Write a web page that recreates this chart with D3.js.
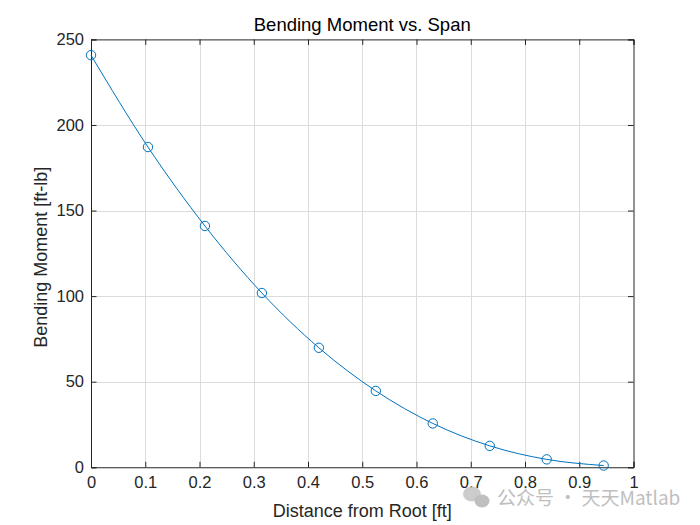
<!DOCTYPE html>
<html>
<head>
<meta charset="utf-8">
<script src="https://cdn.jsdelivr.net/npm/d3@7"></script>
<style>
  html, body { margin: 0; padding: 0; background: #fff; }
  svg { display: block; font-family: "Liberation Sans", Arial, Helvetica, sans-serif; }
</style>
</head>
<body>
<svg id="chart" width="700" height="525"></svg>
<script>
// ---- data ----
const distance = [0, 0.105, 0.21, 0.315, 0.42, 0.525, 0.63, 0.735, 0.84, 0.945];
const moment = [240.8, 187.1, 141.0, 101.8, 69.8, 44.6, 25.6, 12.5, 4.6, 1.0];
const xTicks = [0, 0.1, 0.2, 0.3, 0.4, 0.5, 0.6, 0.7, 0.8, 0.9, 1];
const yTicks = [0, 50, 100, 150, 200, 250];
const titleText = "Bending Moment vs. Span";
const xLabelText = "Distance from Root [ft]";
const yLabelText = "Bending Moment [ft-lb]";
const watermarkText = "公众号 · 天天Matlab";

(function () {
// ---- layout ----
const W = 700, H = 525;
const mLeft = 91, mRight = 633.5, mTop = 39.4, mBottom = 467.25;
const ink = "#262626";
const lineColor = "#0072BD";

const svg = d3.select("#chart");
svg.append("rect").attr("width", W).attr("height", H).attr("fill", "#fff");

const x = d3.scaleLinear().domain([0, 1]).range([mLeft, mRight]);
const y = d3.scaleLinear().domain([0, 250]).range([mBottom, mTop]);

// grid
const grid = svg.append("g").attr("stroke", "#dcdcdc").attr("stroke-width", 1);
grid.selectAll(".gx").data(xTicks.slice(1, -1)).join("line")
  .attr("x1", d => Math.round(x(d)) + 0.5).attr("x2", d => Math.round(x(d)) + 0.5)
  .attr("y1", mTop).attr("y2", mBottom);
grid.selectAll(".gy").data(yTicks.slice(1, -1)).join("line")
  .attr("y1", d => Math.round(y(d)) + 0.5).attr("y2", d => Math.round(y(d)) + 0.5)
  .attr("x1", mLeft).attr("x2", mRight);

// axes
const tickLen = 5.5;
const xAxis = d3.axisBottom(x).tickValues(xTicks).tickSize(-tickLen).tickPadding(9)
  .tickFormat(d => String(+d.toFixed(1)));
const yAxis = d3.axisLeft(y).tickValues(yTicks).tickSize(-tickLen).tickPadding(7);
const xAxisTop = d3.axisTop(x).tickValues(xTicks).tickSize(-tickLen).tickFormat("");
const yAxisRight = d3.axisRight(y).tickValues(yTicks).tickSize(-tickLen).tickFormat("");

function styleAxis(g) {
  g.selectAll("path").attr("stroke", ink).attr("stroke-width", 1);
  g.selectAll("line").attr("stroke", ink).attr("stroke-width", 1);
  g.selectAll("text").attr("fill", ink).style("font-size", "16.5px")
    .style("font-family", '"Liberation Sans", Arial, Helvetica, sans-serif');
}

svg.append("g").attr("transform", `translate(0,${mBottom})`).call(xAxis).call(styleAxis);
svg.append("g").attr("transform", `translate(${mLeft},0)`).call(yAxis).call(styleAxis);
svg.append("g").attr("transform", `translate(0,${mTop})`).call(xAxisTop).call(styleAxis);
svg.append("g").attr("transform", `translate(${mRight},0)`).call(yAxisRight).call(styleAxis);

// data line
const pts = distance.map((d, i) => [d, moment[i]]);
svg.append("path").datum(pts)
  .attr("fill", "none").attr("stroke", lineColor).attr("stroke-width", 1)
  .attr("d", d3.line().x(d => x(d[0])).y(d => y(d[1])).curve(d3.curveMonotoneX));

svg.append("g").selectAll("circle").data(pts).join("circle")
  .attr("cx", d => x(d[0])).attr("cy", d => y(d[1])).attr("r", 4.7)
  .attr("fill", "none").attr("stroke", lineColor).attr("stroke-width", 1);

// title & labels
svg.append("text").attr("x", (mLeft + mRight) / 2).attr("y", 31)
  .attr("text-anchor", "middle").attr("fill", "#000").style("font-size", "18.5px")
  .text(titleText);
svg.append("text").attr("x", (mLeft + mRight) / 2).attr("y", 517)
  .attr("text-anchor", "middle").attr("fill", ink).style("font-size", "18px")
  .text(xLabelText);
svg.append("text").attr("transform", `translate(46.5,${(mTop + mBottom) / 2 + 4}) rotate(-90)`)
  .attr("text-anchor", "middle").attr("fill", ink).style("font-size", "18px")
  .text(yLabelText);

// watermark
const wm = svg.append("g").attr("opacity", 0.85);
wm.append("ellipse").attr("cx", 472).attr("cy", 494).attr("rx", 9).attr("ry", 7.5).attr("fill", "#c4c4c4");
wm.append("ellipse").attr("cx", 482).attr("cy", 501).attr("rx", 7.5).attr("ry", 6.5).attr("fill", "#b4b4b4");
wm.append("text").attr("x", 497).attr("y", 505)
  .attr("fill", "#b5b5b5").style("font-size", "19px")
  .style("font-family", '"Noto Sans CJK SC", "Liberation Sans", sans-serif')
  .text(watermarkText);
})();
</script>
</body>
</html>
